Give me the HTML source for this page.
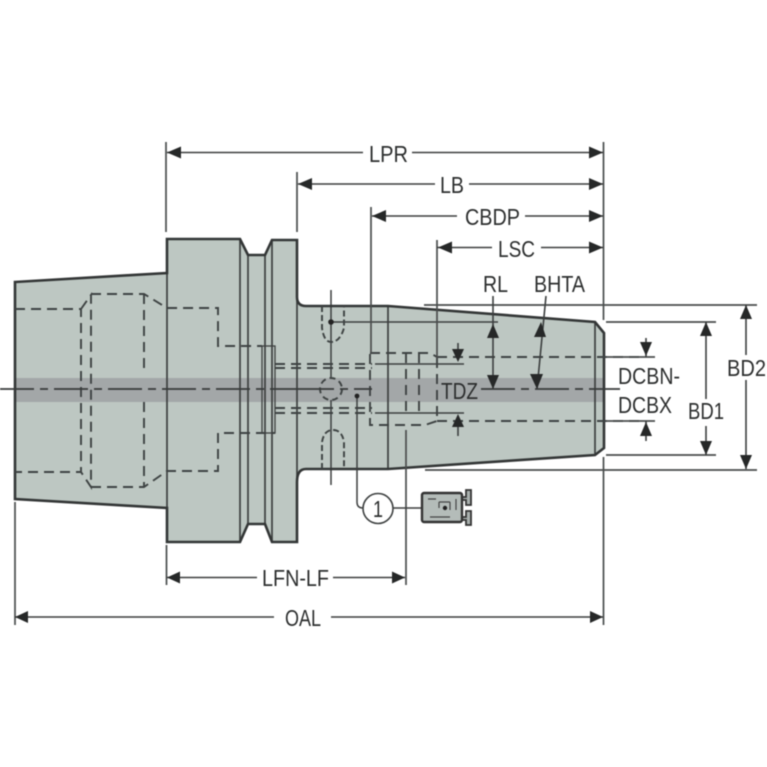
<!DOCTYPE html>
<html><head><meta charset="utf-8"><style>html,body{margin:0;padding:0;background:#fff}svg{display:block;filter:blur(.5px)}</style></head><body>
<svg xmlns="http://www.w3.org/2000/svg" width="767" height="767" viewBox="0 0 767 767">
<defs>
<clipPath id="b"><path d="M15 282L167 273V239H240L248 255H265L272 240H297V297Q297 306 306 306H388L595 322L604 333V448L595 455L388 469H306Q297 469 297 482V542H272L265 524H248L240 542H167V508L15 499Z"/></clipPath>
</defs>
<path d="M15 282L167 273V239H240L248 255H265L272 240H297V297Q297 306 306 306H388L595 322L604 333V448L595 455L388 469H306Q297 469 297 482V542H272L265 524H248L240 542H167V508L15 499Z" fill="#bdc7c2"/>
<rect x="0" y="378" width="767" height="24" fill="#a3a7a8" clip-path="url(#b)"/>
<g fill="none" stroke="#3c3f3f" stroke-width="1.7">
<path d="M167 239V542M240 239V542M248 255V524M265 255V524M272 240V542M297 297V482M388 306V469M595 322V455"/>
<rect x="262" y="346" width="13" height="87" stroke-width="1.3"/>
<path d="M331 290V377M331 400V485" stroke-width="1.5"/>
<path d="M331 322H498M375 364H464M375 413H464" stroke-width="1.5"/>
</g>
<path d="M15 282L167 273V239H240L248 255H265L272 240H297V297Q297 306 306 306H388L595 322L604 333V448L595 455L388 469H306Q297 469 297 482V542H272L265 524H248L240 542H167V508L15 499Z" fill="none" stroke="#333636" stroke-width="2.6"/>
<g fill="none" stroke="#3e4343" stroke-width="1.9" stroke-dasharray="10 6">
<path d="M15 309H81V472H15"/>
<path d="M81 309L91 295V487L81 472"/>
<path d="M91 294H144L167 308H218V346H262"/>
<path d="M144 294V374M144 402V486"/>
<path d="M91 487H144L167 471H218V433H275"/>
<path d="M275 364H372M275 368H372M275 408H372M275 413H372"/>
<path d="M370 354V425H425L437 421"/>
<path d="M370 353H430L437 357"/>
<path d="M406 353V413M419 353V413M437 358V420"/>
<path d="M437 357H640M437 421H640"/>
<path d="M322 306V328Q324 342 331 342Q340 342 344 328V306" stroke-dasharray="6 3"/>
<path d="M322 469V442Q324 430 333 430Q342 430 344 442V469" stroke-dasharray="6 3"/>
<circle cx="331" cy="389" r="11" stroke-dasharray="6 4"/>
</g>
<path d="M0 389H300M300 389H372M481 389H620" stroke="#383b3b" stroke-width="1.7" stroke-dasharray="34 6 8 6" fill="none"/>
<circle cx="331" cy="322" r="2.8" fill="#222"/>
<g fill="none" stroke="#4a4d4d" stroke-width="1.7">
<path d="M166 142V232M297 172V232M371 207V353M437 240V358M603.500 142V320M603.500 457V625"/>
<path d="M15 502V625M166.500 545V585M406 430V585"/>
<path d="M424 305H757M425 470H757M606 322H716M606 455H716M606 357H655M606 421H655"/>
</g>
<g fill="none" stroke="#3c3f3f" stroke-width="1.6">
<path d="M167 152.500H363M412 152.500H603M298 184H435M469 184H603M372 216H457M525 216H603M437 247.500H492M541 247.500H603"/>
<path d="M167 577.500H257M333 577.500H405M15 617H274M331 617H603"/>
<path d="M706 322V399M706 426V455M746 305V355M746 380V469"/>
<path d="M646 338V357M646 421V441M458 343V357M458 421V436"/>
<path d="M493 296V389M546 296L537 389"/>
</g>
<g fill="#262828">
<path d="M167 152.500l14-6v12zM603 152.500l-14-6v12zM298 184l14-6v12zM603 184l-14-6v12zM372 216l14-6v12zM603 216l-14-6v12zM438 247.500l14-6v12zM603 247.500l-14-6v12z"/>
<path d="M167 577.500l13-6v12zM405 577.500l-13-6v12zM15 617l13-6v12zM603 617l-13-6v12z"/>
<path d="M706 322l-6 14h12zM706 455l-6-14h12zM746 305l-6 14h12zM746 469l-6-14h12z"/>
<path d="M646 356l-6-14h12zM646 422l-6 14h12zM458 362l-6-13h12zM458 414l-6 13h12z"/>
<path d="M493 324l-6 14h12zM493 389l-6-14h12zM541 322l-7 15h12zM537 389l-7-15h13z"/>
</g>
<g font-family="'Liberation Sans',sans-serif" font-size="23" fill="#2c2e2e">
<text x="369" y="162" textLength="39" lengthAdjust="spacingAndGlyphs">LPR</text>
<text x="440" y="193" textLength="24" lengthAdjust="spacingAndGlyphs">LB</text>
<text x="465" y="225" textLength="55" lengthAdjust="spacingAndGlyphs">CBDP</text>
<text x="498" y="257" textLength="37" lengthAdjust="spacingAndGlyphs">LSC</text>
<text x="483" y="292" textLength="25" lengthAdjust="spacingAndGlyphs">RL</text>
<text x="534" y="292" textLength="51" lengthAdjust="spacingAndGlyphs">BHTA</text>
<text x="441" y="399" textLength="37" lengthAdjust="spacingAndGlyphs">TDZ</text>
<text x="618" y="384" textLength="62" lengthAdjust="spacingAndGlyphs">DCBN-</text>
<text x="618" y="413" textLength="54" lengthAdjust="spacingAndGlyphs">DCBX</text>
<text x="688" y="419" textLength="36" lengthAdjust="spacingAndGlyphs">BD1</text>
<text x="727" y="376" textLength="39" lengthAdjust="spacingAndGlyphs">BD2</text>
<text x="262" y="586" textLength="67" lengthAdjust="spacingAndGlyphs">LFN-LF</text>
<text x="285" y="626" textLength="36" lengthAdjust="spacingAndGlyphs">OAL</text>
</g>
<circle cx="378" cy="508.500" r="15" fill="#fff" stroke="#3c3f3f" stroke-width="1.6"/>
<text x="373" y="517" textLength="10" lengthAdjust="spacingAndGlyphs" font-family="'Liberation Sans',sans-serif" font-size="23" fill="#2c2e2e">1</text>
<path d="M357 396V502Q357 508 363 508M393 508H445" fill="none" stroke="#3c3f3f" stroke-width="1.5"/>
<circle cx="357" cy="396" r="2.4" fill="#222"/>
<path d="M462 497H466V490H471V505H466V500H462ZM462 517H466V511H471V525H466V520H462Z" fill="#a9b0ae" stroke="#333" stroke-width="1.8"/>
<rect x="422" y="493" width="40" height="29" rx="2" fill="#b4bcb9" stroke="#333" stroke-width="2.4"/>
<path d="M428 499H436M439 502H450M439 502V508M450 502V510M456 499V510M430 517H450" fill="none" stroke="#444" stroke-width="1.2"/>
<circle cx="445" cy="508" r="2.2" fill="#222"/>
</svg>
</body></html>
